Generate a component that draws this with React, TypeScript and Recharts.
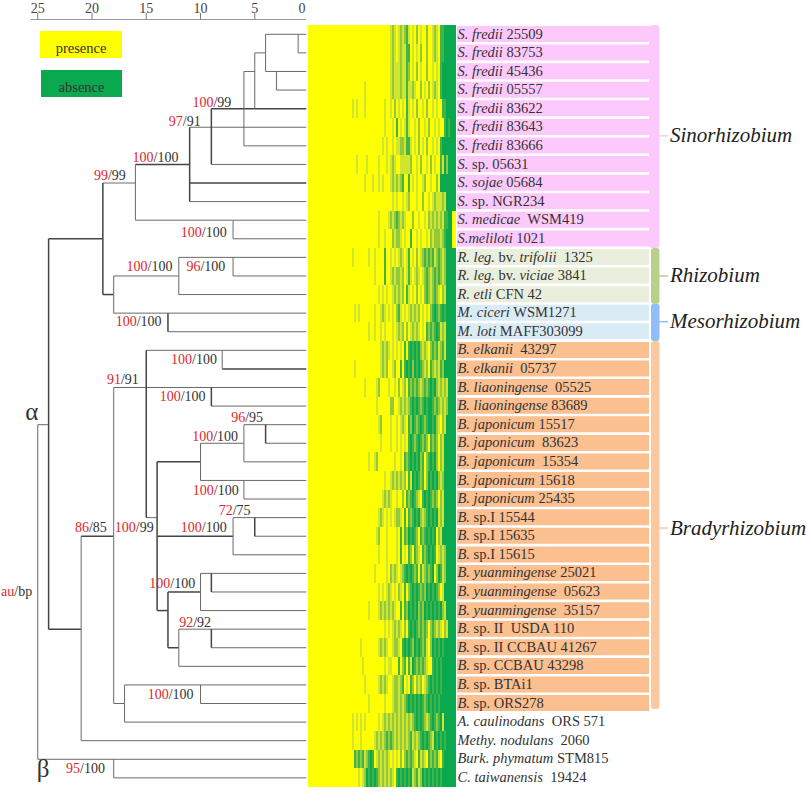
import { Bar, BarChart, Cell, LabelList, ReferenceArea, Scatter, ScatterChart, XAxis, YAxis } from "recharts";

const SERIF = "'Liberation Serif', serif";

// text between * is italic
const strainLabels = [
  "*S. fredii* 25509", "*S. fredii* 83753", "*S. fredii* 45436", "*S. fredii* 05557", "*S. fredii* 83622",
  "*S. fredii* 83643", "*S. fredii* 83666", "*S.* sp. 05631", "*S. sojae* 05684", "*S.* sp. NGR234",
  "*S. medicae*  WSM419", "*S.meliloti* 1021",
  "*R. leg.* bv. *trifolii*  1325", "*R. leg.* bv. *viciae* 3841", "*R. etli* CFN 42",
  "*M. ciceri* WSM1271", "*M. loti* MAFF303099",
  "*B. elkanii*  43297", "*B. elkanii*  05737", "*B. liaoningense*  05525", "*B. liaoningense* 83689",
  "*B. japonicum* 15517", "*B. japonicum*  83623", "*B. japonicum*  15354", "*B. japonicum* 15618",
  "*B. japonicum* 25435", "*B.* sp.I 15544", "*B.* sp.I 15635", "*B.* sp.I 15615",
  "*B. yuanmingense* 25021", "*B. yuanmingense*  05623", "*B. yuanmingense*  35157",
  "*B.* sp. II  USDA 110", "*B.* sp. II CCBAU 41267", "*B.* sp. CCBAU 43298", "*B.* sp. BTAi1", "*B.* sp. ORS278",
  "*A. caulinodans*  ORS 571", "*Methy. nodulans*  2060", "*Burk. phymatum* STM815", "*C. taiwanensis*  19424",
];

const strainFills = [
  ...Array(12).fill("#fdc9fd"),
  ...Array(3).fill("#e9efdc"),
  ...Array(2).fill("#d9ecf6"),
  ...Array(20).fill("#fbbf90"),
  ...Array(4).fill("none"),
];

// presence/absence bands per strain: 2px columns, after a plain yellow start
const heatStart = 40;
const heatRows = [
  "YYYYYYYYYYYYYYYYYYYYY" + "lmlYlmlmdlYlYmYlYYmYYlmlY" + "ddGGGGGG",
  "YYYYYYYYYYYYYYYYYYYYY" + "lmlYlmllddYlYlYmYYmYYlmlY" + "ddGGGGGG",
  "YYYYYYYYYYYYYYYYYYYYY" + "lmlllmlldmYlYmYlYYmYYlYlY" + "dGGGGGGG",
  "YYYYYYYYlYYYYYYYYYYYY" + "lmlllmlldllmlYYmYlYmYlmlY" + "dGGGGGGG",
  "YYlYlYYYlYYYYYYYYYlYY" + "lYmYlYlYdlYlYmYYlYmYYlYlY" + "YddGGGGG",
  "YYYYYYYYYYYYYYYYYYlYY" + "YlYdYlYldlYYlYmYYlYmYYlYl" + "YYdGdGGG",
  "YYYYYYYYYYYYYYYYYlYlY" + "YlYllmmlddlYlYmYlYmYYlYlY" + "dGGGGGGG",
  "YYYYlYYYYlYYYYYlYYYlY" + "lmlYYlllllmYYlYmYYlYmYlYY" + "dlGmGGGG",
  "YYYYYYYYlYYYlYYlYlYYY" + "lmlmlmdYYdYlYlYYlmYYlYYmY" + "GGGGGGGG",
  "YYYYYYYYYYYYYYYYYYYYY" + "YlYlYYlYlmYYYlYYmYYlYlmll" + "lmlGGGGG",
  "YYYYYYYYYYYYYYYlYYYYl" + "mlmdmlmlYYYmYYlYYlYmlmlml" + "mlddGGYY",
  "YYYYYYYYYYYYYYYlYYlYY" + "YmlmmlYlYYdYYlYlYYlYmlmmm" + "lmdGGGYY",
  "YYlYYYYYYYlYYlYYYYdYY" + "lYlYlmlYldYlYmYlmdmdmdlmd" + "mlmGGGGG",
  "YYYYYYYYYYYYYlYYYYdYY" + "lmlmmlmYldlYlmlYlmdmlmdmd" + "mlmGGGGG",
  "YYYYYYYYYYYYYYYlYlYlY" + "YlmlmlmYdlYlYmYlYmdmlmdml" + "YmlGGGGG",
  "YYYlYlYYYYYYYlYYlmlYl" + "YlYmdlYlYlmlmlmYlYlYmdGdm" + "dGdGGGGG",
  "YYYYYYYYYYlYYlYYlYlYY" + "YlYlmlmYmYlmlmlYlYdmdmdGd" + "lmlGGGGG",
  "YYYYYYYYYYYYYYYYlmlml" + "YlYlYlYdYdGdGdGmlmlYmdmdl" + "mdlGGGGG",
  "YYYlYYYYYYYYYYYYlmlmY" + "YlmYYdYdGdGmGdGdmlmYdmlml" + "dmGGGGGG",
  "YYYYYYYYlYYYYYlmYYYYl" + "YYlYmYlmYdmdmdmlmdmdGdGml" + "mlmlGGGG",
  "YYYYYYYYYYYYYYlYYYYYY" + "mmYYlmlmlmdGdGdmdGdGGdmdm" + "lmlmGGGG",
  "YYYYYYYYYYYYYYYlmYYYY" + "lYYlYlmlYdmGdmdGdmdGGdGml" + "YmlGGGGG",
  "YYYYYYYYYYYYYYYYlYYYY" + "lYYlYlYlYdGdmdGdmdmYdmdmY" + "mlGGGGGG",
  "YYYYYYYYYYlYYlmYYYYYY" + "YYlYYlYdmdGdGdGmdYmdGdGmY" + "mlGGGGGG",
  "YYYYYYYYYYYYYYYYYYlYY" + "lmlmlmlmYdlGdGdmdYmGdGdGm" + "lmGGGGGG",
  "YYYYYYYYYYYYYYYYYlmlm" + "lYYlYYmYdmdGdmlYdGdGdmdmY" + "mlGGGGGG",
  "YYYYYYYYYYYYYYYlmlYlY" + "lYlmmlYdYdmdGdGmlmdGdGdGl" + "mlGGGGGG",
  "YYYYYYYYYYYYYYlmYYYlY" + "YYYlYdYdmGdGdmYdmdGdGdGYm" + "lGGGGGGG",
  "YYYYYYYYYYYYYYYlYYYlY" + "YYYlYdYlYdmYdmlYdmdGdGdYl" + "mlmGGGGG",
  "YYYYYYYYYYYYYlYYYYYlY" + "mlmlYlmdGdGdmdYdlmdmdGYmG" + "dlmGGGGG",
  "YYYYYYYYYYYYYYYlYlYlm" + "lYlYmlYdYmdGdGdmdmGdGdGdm" + "YlGGGGGG",
  "YYYYYYYYYYlYYYYlmlmlm" + "lmlYYdYdmGdGdGmdmGdGdGdGd" + "GmlGGGGG",
  "YYYYYYYYYYYYYYYYYYlYl" + "YlmlmlYmYdGdGdmdmdmYmdmlm" + "lYmlGGGG",
  "YYYYYYlYYYYYYYYlmlmlY" + "YlmmlYdGdGdmGdGdmdlYmGdGd" + "GdGGGGGG",
  "YYYYYYYlYYYYYYYYYYlYl" + "lYYYdYmdYdlGdmdmdmlYYdGdG" + "dGGGGGGG",
  "YYYYYYYYlYYYYYYlmlmlY" + "YlmmlmdYlYdmYmlmYlmdGdGdG" + "dGGGGGGG",
  "YYYYYYYYYYlYYYYYYYlYY" + "YlmmlmlmdGdGdGdGdmdGdGdGd" + "GGGGGGGG",
  "YYlYlYlYlYYYYYYlYlmlm" + "lmlmlmlmlmlmdGdGdmlmdGdmd" + "GlGGGGGG",
  "YYlYYYlYYYYYYlmlmlmdm" + "dmlmlmlmlmdlmlmdGdGdmlGdG" + "dGdGGGGG",
  "YYYdmdmdlmdGdYlmlmlml" + "YlYlYmYmdmdmlYdlmlYdmdmdl" + "YdGGGGGG",
  "YYYYYlYlmGdGdGdmlmlml" + "mlYdGdGdGdGlmdlmGdGdGdGdG" + "dGGGGGGG",
];
const heatColors: Record<string, string> = {
  Y: "#ffff00",
  l: "#cfe52e",
  m: "#93ca3c",
  d: "#3fb449",
  G: "#0aa84f",
};
const heatColumns = heatRows[0].split("").map((_, i) => `c${i}`);

// dendrogram: [row, far distance, near distance, bold]
const branchRuns: number[][] = [
  [0, 4, 0.25], [1, 1, 0.25], [1, 5, 4], [2, 4, 0.25], [2, 6, 5], [3, 3, 0.25], [4, 9, 0.25, 1], [5, 11, 0.25],
  [6, 6, 0.25], [7, 16, 11, 1], [7, 9, 0.25], [8, 19, 16], [8, 11, 0.25, 1], [9, 11, 0.25], [10, 16, 0.25],
  [11, 24, 19, 1], [11, 7, 0.25], [12, 12, 0.25], [13, 18, 12], [13, 7, 0.25], [14, 19, 18, 1], [14, 12, 0.25],
  [15, 18, 0.25], [16, 13, 0.25], [17, 15, 0.25], [18, 8, 0.25, 1], [19, 18, 0.25], [20, 9, 0.25], [21, 25, 24],
  [21, 6, 0.25], [22, 10, 6], [22, 4, 0.25], [23, 14, 10, 1], [23, 6, 0.25], [24, 10, 0.25], [25, 6, 0.25],
  [26, 15, 14], [26, 7, 0.25], [27, 21, 18, 1], [27, 14, 7, 1], [27, 5, 0.25], [28, 7, 0.25], [29, 10, 0.25],
  [30, 13, 10, 1], [30, 9, 0.25], [31, 14, 13, 1], [31, 10, 0.25], [32, 24, 21, 1], [32, 12, 0.25], [33, 13, 12, 1],
  [33, 9, 0.25], [34, 12, 0.25], [35, 17, 0.25], [36, 18, 17], [36, 10, 0.25], [37, 17, 0.25], [38, 21, 0.25],
  [39, 25, 0.25], [40, 18, 0.25],
];
// [distance, top row, bottom row, bold]
const branchJoins: number[][] = [
  [1, 0, 1], [4, 0, 2], [3, 2, 3], [5, 1, 4], [6, 2, 6], [9, 4, 7, 1], [11, 5, 9, 1], [16, 7, 10], [7, 10, 11],
  [19, 8, 14, 1], [24, 11, 32, 1], [18, 13, 15], [12, 12, 14], [7, 12, 13], [13, 15, 16, 1], [15, 17, 26, 1],
  [8, 17, 18], [18, 19, 36], [9, 19, 20, 1], [25, 21, 39], [6, 21, 23], [4, 21, 22, 1], [10, 22, 24], [6, 24, 25],
  [14, 23, 31, 1], [7, 26, 28], [5, 26, 27, 1], [21, 27, 38], [9, 29, 30, 1], [10, 29, 31], [13, 30, 33, 1],
  [12, 32, 34], [9, 32, 33, 1], [17, 35, 37], [10, 35, 36], [18, 39, 40],
];

// [distance, row, au, bp]: centre of each bootstrap label
const supportLabels: [number, number, string, string][] = [
  [8.95, 3.66, "100", "99"], [11.45, 4.7, "97", "91"], [14.15, 6.64, "100", "100"], [18.35, 7.62, "99", "99"],
  [9.7, 10.65, "100", "100"], [14.7, 12.5, "100", "100"], [9.5, 12.47, "96", "100"], [15.7, 15.46, "100", "100"],
  [10.6, 17.49, "100", "100"], [17.15, 18.57, "91", "91"], [11.65, 19.5, "100", "100"], [5.7, 20.63, "96", "95"],
  [8.65, 21.61, "100", "100"], [8.6, 24.52, "100", "100"], [6.85, 25.6, "72", "75"], [20.1, 26.55, "86", "85"],
  [16.1, 26.55, "100", "99"], [9.7, 26.55, "100", "100"], [12.6, 29.54, "100", "100"], [10.5, 31.62, "92", "92"],
  [12.75, 35.53, "100", "100"], [20.6, 39.51, "95", "100"],
];
const cladeMarks = [
  { d: 25.55, r: 20.4, name: "α", size: 25 },
  { d: 24.5, r: 39.65, name: "β", size: 25 },
];
const keyLabel = [{ d: 26.95, r: 29.95, au: "au", bp: "bp" }];
const distanceTicks = [25, 20, 15, 10, 5, 0];

const legendItems = [
  { name: "presence", color: "#ffff00", left: 40, top: 31, width: 82 },
  { name: "absence", color: "#0aa84f", left: 41, top: 70, width: 81 },
];

const groupNames = ["Sinorhizobium", "Rhizobium", "Mesorhizobium", "Bradyrhizobium"];
const groupFirstRow = [-0.5, 11.5, 14.5, 16.5];
const groupLastRow = [11.5, 14.5, 16.5, 36.3];
const groupMidRow = [5.46, 13, 15.46, 26.56];
const groupInset = [0, 2, 2, 2];
const groupColors = ["#fdc9fd", "#b8d08c", "#90bef8", "#fcc8a0"];

const heatData = heatRows.map((row, i) => {
  const item: Record<string, string | number> = { strain: strainLabels[i], start: heatStart };
  heatColumns.forEach((c) => (item[c] = 2));
  return item;
});
const labelData = strainLabels.map((strain) => ({ strain, span: 192 }));

const noDot = () => <g />;

const AXIS_Y = 19;

const DistanceTick = ({ x, payload }: any) => {
  const isZero = payload.value === 0;
  return (
    <g>
      {!isZero && <line x1={x} x2={x} y1={AXIS_Y - 6} y2={AXIS_Y} stroke="#777" />}
      <text x={isZero ? x - 7 : x} y={AXIS_Y - 6.5} textAnchor="middle" fontSize={14} fontFamily={SERIF} fill="#444">
        {payload.value}
      </text>
    </g>
  );
};

const SupportLabel = ({ cx, cy, payload }: any) => (
  <text x={cx} y={cy + 4.5} textAnchor="middle" fontSize={14} fontFamily={SERIF} fill="#333">
    <tspan fill="#e0262c">{payload.au}</tspan>/{payload.bp}
  </text>
);

const CladeLabel = ({ cx, cy, payload }: any) => (
  <text x={cx} y={cy + 6} textAnchor="middle" fontSize={payload.size} fontFamily={SERIF} fill="#333">
    {payload.name}
  </text>
);

const StrainLabel = ({ x, y, height, value }: any) => (
  <text x={x + 0.5} y={y + height / 2 + 4.5} fontSize={14.5} fontFamily={SERIF} fill="#333" style={{ whiteSpace: "pre" }}>
    {String(value)
      .split("*")
      .map((part, i) => (
        <tspan key={i} fontStyle={i % 2 ? "italic" : "normal"}>
          {part}
        </tspan>
      ))}
  </text>
);

const GroupName = ({ cx, cy, payload }: any) => (
  <text x={cx} y={cy + 6.5} fontSize={21} fontStyle="italic" fontFamily={SERIF} fill="#222">
    {payload.name}
  </text>
);

const Dendrogram = () => (
  <ScatterChart width={309} height={792} margin={{ top: 0, right: 0, bottom: 0, left: 0 }}>
    <XAxis
      type="number"
      dataKey="d"
      orientation="top"
      reversed
      height={19}
      domain={[0, 28.48]}
      allowDataOverflow
      ticks={distanceTicks}
      interval={0}
      tick={DistanceTick}
      tickLine={false}
      axisLine={false}
    />
    <YAxis type="number" dataKey="r" reversed hide domain={[-0.823, 40.76]} allowDataOverflow />
    <Scatter
      data={[{ d: 25.65, r: -0.823 }, { d: 0.28, r: -0.823 }]}
      line={{ stroke: "#777", strokeWidth: 1.5 }}
      shape={noDot}
      isAnimationActive={false}
    />
    {branchRuns.map(([row, far, near, bold], i) => (
      <Scatter
        key={`run${i}`}
        data={[{ d: far, r: row }, { d: near, r: row }]}
        line={{ stroke: bold ? "#444" : "#6a6a6a", strokeWidth: bold ? 1.5 : 1 }}
        shape={noDot}
        isAnimationActive={false}
      />
    ))}
    {branchJoins.map(([dist, top, bottom, bold], i) => (
      <Scatter
        key={`join${i}`}
        data={[{ d: dist, r: top }, { d: dist, r: bottom }]}
        line={{ stroke: bold ? "#444" : "#6a6a6a", strokeWidth: bold ? 1.5 : 1 }}
        shape={noDot}
        isAnimationActive={false}
      />
    ))}
    <Scatter
      data={supportLabels.map(([d, r, au, bp]) => ({ d, r, au, bp }))}
      shape={SupportLabel}
      isAnimationActive={false}
    />
    <Scatter data={keyLabel} shape={SupportLabel} isAnimationActive={false} />
    <Scatter data={cladeMarks} shape={CladeLabel} isAnimationActive={false} />
  </ScatterChart>
);

const Heatmap = () => (
  <BarChart
    layout="vertical"
    width={148}
    height={762}
    data={heatData}
    barCategoryGap={0}
    margin={{ top: 0, right: 0, bottom: 0, left: 0 }}
  >
    <XAxis type="number" hide domain={[0, 148]} />
    <YAxis type="category" dataKey="strain" hide />
    <Bar dataKey="start" stackId="heat" fill={heatColors.Y} shapeRendering="crispEdges" isAnimationActive={false} />
    {heatColumns.map((c, col) => (
      <Bar key={c} dataKey={c} stackId="heat" shapeRendering="crispEdges" isAnimationActive={false}>
        {heatRows.map((row, i) => (
          <Cell key={i} fill={heatColors[row[col]]} />
        ))}
      </Bar>
    ))}
  </BarChart>
);

const StrainLabels = () => (
  <BarChart
    layout="vertical"
    width={192}
    height={762}
    data={labelData}
    barCategoryGap={0}
    barSize={16}
    margin={{ top: 0, right: 0, bottom: 0, left: 0 }}
  >
    <XAxis type="number" hide domain={[0, 192]} />
    <YAxis type="category" dataKey="strain" hide />
    <Bar dataKey="span" isAnimationActive={false}>
      {strainFills.map((fill, i) => (
        <Cell key={i} fill={fill} />
      ))}
      <LabelList dataKey="strain" content={StrainLabel} />
    </Bar>
  </BarChart>
);

const GroupBrackets = () => (
  <ScatterChart width={158} height={792} margin={{ top: 0, right: 0, bottom: 0, left: 0 }}>
    <XAxis type="number" dataKey="x" hide domain={[0, 158]} allowDataOverflow />
    <YAxis type="number" dataKey="r" reversed hide domain={[-1.846, 40.76]} allowDataOverflow />
    {groupNames.map((name, i) => (
      <ReferenceArea
        key={name}
        x1={groupInset[i]}
        x2={10.5}
        y1={groupFirstRow[i]}
        y2={groupLastRow[i]}
        fill={groupColors[i]}
        fillOpacity={1}
        stroke="none"
        radius={3}
      />
    ))}
    {groupNames.map((name, i) => (
      <Scatter
        key={name}
        data={[{ x: 10, r: groupMidRow[i] }, { x: 19, r: groupMidRow[i] }]}
        line={{ stroke: groupColors[i], strokeWidth: 1.5 }}
        shape={noDot}
        isAnimationActive={false}
      />
    ))}
    <Scatter
      data={groupNames.map((name, i) => ({ x: 21, r: groupMidRow[i], name }))}
      shape={GroupName}
      isAnimationActive={false}
    />
  </ScatterChart>
);

const panel = (left: number, top: number) => ({ position: "absolute" as const, left, top });

export default function App() {
  return (
    <div style={{ position: "absolute", left: 0, top: 0, width: 807, height: 792, background: "#fff", overflow: "hidden" }}>
      <div style={panel(0, 0)}>
        <Dendrogram />
      </div>
      {legendItems.map((item) => (
        <div
          key={item.name}
          style={{
            ...panel(item.left, item.top),
            width: item.width,
            height: 27,
            background: item.color,
            color: "#333",
            fontFamily: SERIF,
            fontSize: 14.5,
            lineHeight: "34px",
            textAlign: "center",
          }}
        >
          {item.name}
        </div>
      ))}
      <div style={panel(308, 25)}>
        <Heatmap />
      </div>
      <div style={panel(649, 0)}>
        <GroupBrackets />
      </div>
      <div style={panel(457, 25)}>
        <StrainLabels />
      </div>
    </div>
  );
}
